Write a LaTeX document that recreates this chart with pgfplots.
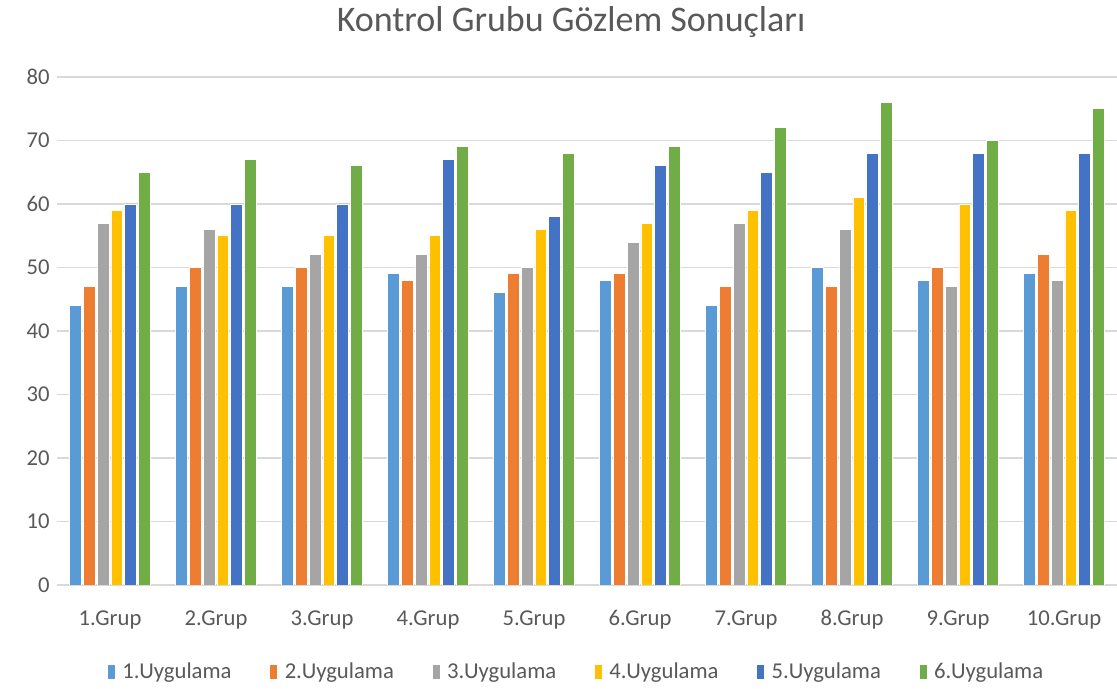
\documentclass[border=0pt]{standalone}
\usepackage{pgfplots}
\pgfplotsset{compat=1.18}
\usepackage{pgfplotstable}
\usepackage{fontspec}
\setmainfont{Carlito}
\definecolor{c1}{HTML}{5B9BD5}
\definecolor{c2}{HTML}{ED7D31}
\definecolor{c3}{HTML}{A5A5A5}
\definecolor{c4}{HTML}{FFC000}
\definecolor{c5}{HTML}{4472C4}
\definecolor{c6}{HTML}{70AD47}
\definecolor{gridc}{HTML}{D9D9D9}
\definecolor{txt}{HTML}{595959}
\pgfplotstableread{
x u1 u2 u3 u4 u5 u6
0 44 47 57 59 60 65
1 47 50 56 55 60 67
2 47 50 52 55 60 66
3 49 48 52 55 67 69
4 46 49 50 56 58 68
5 48 49 54 57 66 69
6 44 47 57 59 65 72
7 50 47 56 61 68 76
8 48 50 47 60 68 70
9 49 52 48 59 68 75
}\data
\begin{document}
\begin{tikzpicture}
\begin{axis}[
  name=ax,
  scale only axis,
  width=795pt, height=381pt,
  ybar, bar width=0.112,
  xmin=-0.5, xmax=9.5, ymin=0, ymax=80,
  xtick=data,
  xticklabels={1.Grup,2.Grup,3.Grup,4.Grup,5.Grup,6.Grup,7.Grup,8.Grup,9.Grup,10.Grup},
  ytick={0,10,...,80},
  ymajorgrids, grid style={gridc, line width=1pt},
  axis x line*=bottom, axis y line*=left,
  x axis line style={gridc, line width=1pt, -},
  y axis line style={draw=none},
  major tick length=0pt,
  tick label style={font=\fontsize{17}{20}\selectfont, text=txt},
  /pgf/number format/assume math mode=true,
  xticklabel style={anchor=base, yshift=-30.5pt},
  yticklabel style={xshift=-2pt},
  title={Kontrol Grubu Gözlem Sonuçları},
  title style={font=\fontsize{27}{32}\selectfont, text=txt, at={(0.485,1)}, anchor=center, yshift=35pt},
  legend style={at={(0.49,0)}, anchor=center, yshift=-65pt, draw=none, legend columns=6,
    font=\fontsize{17}{20}\selectfont, text=txt,
    /tikz/every odd column/.append style={column sep=3pt},
    /tikz/every even column/.append style={column sep=26.3pt}},
  legend image code/.code={\fill[#1] (0pt,-5.5pt) rectangle (6pt,5.5pt);},
  every axis plot/.append style={draw=white, line width=0.6pt},
]
\addplot[fill=c1, bar shift=-0.3225] table[x=x,y=u1]{\data};
\addplot[fill=c2, bar shift=-0.1935] table[x=x,y=u2]{\data};
\addplot[fill=c3, bar shift=-0.0645] table[x=x,y=u3]{\data};
\addplot[fill=c4, bar shift=0.0645] table[x=x,y=u4]{\data};
\addplot[fill=c5, bar shift=0.1935] table[x=x,y=u5]{\data};
\addplot[fill=c6, bar shift=0.3225] table[x=x,y=u6]{\data};
\legend{1.Uygulama,2.Uygulama,3.Uygulama,4.Uygulama,5.Uygulama,6.Uygulama}
\end{axis}
\pgfresetboundingbox
\useasboundingbox ([xshift=-42.75pt,yshift=-78pt]ax.south west) rectangle ([yshift=57.75pt]ax.north east);
\end{tikzpicture}
\end{document}
